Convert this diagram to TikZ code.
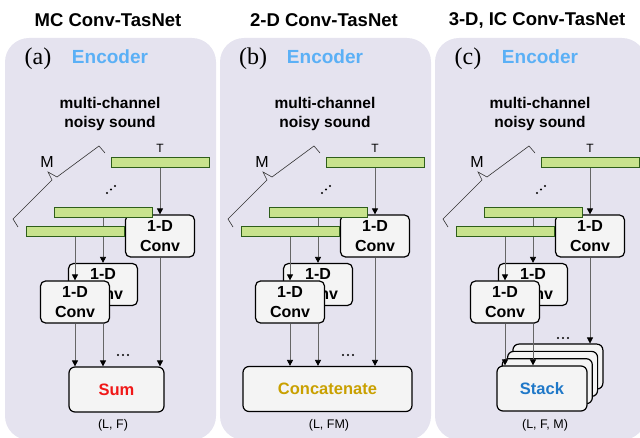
\documentclass[tikz,border=0pt]{standalone}
\usepackage{fontspec}
\setmainfont{Liberation Serif}
\setsansfont{Liberation Sans}
\usetikzlibrary{arrows.meta}

\definecolor{panelbg}{HTML}{E5E3EF}
\definecolor{barfill}{HTML}{C8E38D}
\definecolor{bargreen}{HTML}{2E5E1A}
\definecolor{boxfill}{HTML}{F4F4F4}
\definecolor{encblue}{HTML}{5BB0F6}
\definecolor{sumred}{HTML}{F01818}
\definecolor{catgold}{HTML}{C9A000}
\definecolor{stackblue}{HTML}{1F78C8}

\tikzset{
  panel/.style={fill=panelbg, rounded corners=24pt},
  title/.style={font=\sffamily\bfseries\fontsize{18.5}{22}\selectfont},
  tag/.style={font=\rmfamily\fontsize{24}{28}\selectfont},
  enc/.style={font=\sffamily\bfseries\fontsize{19}{22}\selectfont, text=encblue},
  caption/.style={align=center, font=\sffamily\bfseries\fontsize{15.5}{19}\selectfont},
  bar/.style={draw=bargreen, fill=barfill, line width=1pt,
    minimum width=98pt, minimum height=10pt, inner sep=0pt},
  conv/.style={draw, fill=boxfill, rounded corners=5pt, line width=1.2pt,
    minimum width=69pt, minimum height=42pt, inner sep=0pt, align=center,
    font=\sffamily\bfseries\fontsize{16}{20}\selectfont},
  outbox/.style={draw, fill=boxfill, rounded corners=6pt, line width=1.2pt,
    minimum height=45pt, font=\sffamily\bfseries\fontsize{16.5}{20}\selectfont},
  flow/.style={draw=black!60, line width=0.8pt,
    -{Triangle[length=6pt, width=6pt, color=black]}},
  letter/.style={font=\sffamily\fontsize{12}{14}\selectfont},
  dims/.style={font=\sffamily\fontsize{12.5}{15}\selectfont},
  brace/.style={draw=black!80, line width=0.6pt},
}

% common part of one encoder panel, #1 = panel letter
\newcommand\encoder[1]{
  \fill[panel] (5,38) rectangle (216,440);
  \node[tag] (#1tag) at (38,59) {(#1)};
  \node[enc] (#1enc) at (110,57) {Encoder};
  \node[caption] (#1src) at (110,114) {multi-channel\\noisy sound};
  \node[conv] (#1conv1) at (160,236) {1-D\\Conv};
  \node[conv] (#1conv2) at (103,284.5) {1-D\\Conv};
  \node[bar] (#1bar1) at (160,163) {};
  \node[bar] (#1bar2) at (103,213) {};
  \draw[flow] (#1bar1) -- (#1conv1);
  \draw[flow] (#1bar2) -- (#1conv2);
  \node[bar] (#1bar3) at (75,232) {};
  \node[conv] (#1conv3) at (75,302) {1-D\\Conv};
  \draw[flow] (#1bar3) -- (#1conv3);
  \node[letter] (#1T) at (160,148) {T};
  \node[letter, font=\sffamily\fontsize{16}{18}\selectfont] (#1M) at (47,162) {M};
  \draw[brace] (18,227) -- (13,219) -- (52,180) -- (48,172) -- (57,177)
    -- (99,146) -- (105,153);
  \foreach \k in {0,1,2}
    \fill (107+4*\k, 193-3.5*\k) circle (1.1pt);
}

\begin{document}
\begin{tikzpicture}[x=1pt, y=-1pt]
  \useasboundingbox (0,0) rectangle (640,438);

  % (a) MC Conv-TasNet
  \node[title] (atitle) at (108,20) {MC Conv-TasNet};
  \encoder{a}
  \node[outbox, minimum width=95pt, text=sumred] (aout) at (116.5,389.5) {Sum};
  \draw[flow] (aconv3) -- (aconv3 |- aout.north);
  \draw[flow] (aconv3.south -| aconv2) -- (aconv2 |- aout.north);
  \draw[flow] (aconv1) -- (aconv1 |- aout.north);
  \foreach \k in {0,1,2}
    \fill (118+5*\k, 355) circle (1.2pt);
  \node[dims] (adims) at (113,425) {(L, F)};

  % (b) 2-D Conv-TasNet
  \begin{scope}[shift={(215,0)}]
    \node[title] (btitle) at (109,20) {2-D Conv-TasNet};
    \encoder{b}
    \node[outbox, minimum width=169pt, text=catgold] (bout) at (112.5,389) {Concatenate};
    \draw[flow] (bconv3) -- (bconv3 |- bout.north);
    \draw[flow] (bconv3.south -| bconv2) -- (bconv2 |- bout.north);
    \draw[flow] (bconv1) -- (bconv1 |- bout.north);
    \foreach \k in {0,1,2}
      \fill (128+5*\k, 355) circle (1.2pt);
    \node[dims] (bdims) at (114,425) {(L, FM)};
  \end{scope}

  % (c) 3-D, IC Conv-TasNet
  \begin{scope}[shift={(430,0)}]
    \node[title] (ctitle) at (107,20) {3-D, IC Conv-TasNet};
    \encoder{c}
    \foreach \k in {3,2,1}
      \node[outbox, minimum width=90pt] (clayer\k) at (112+5.3*\k, 388.5-7.3*\k) {};
    \node[outbox, minimum width=90pt, text=stackblue] (cout) at (112,388.5) {Stack};
    \draw[flow] (cconv3) -- (cconv3 |- cout.north);
    \draw[flow] (cconv3.south -| cconv2) -- (cconv2 |- cout.north);
    \draw[flow] (cconv1) -- (cconv1 |- clayer3.north);
    \foreach \k in {0,1,2}
      \fill (128+5*\k, 338) circle (1.2pt);
    \node[dims] (cdims) at (115,425) {(L, F, M)};
  \end{scope}
\end{tikzpicture}
\end{document}
